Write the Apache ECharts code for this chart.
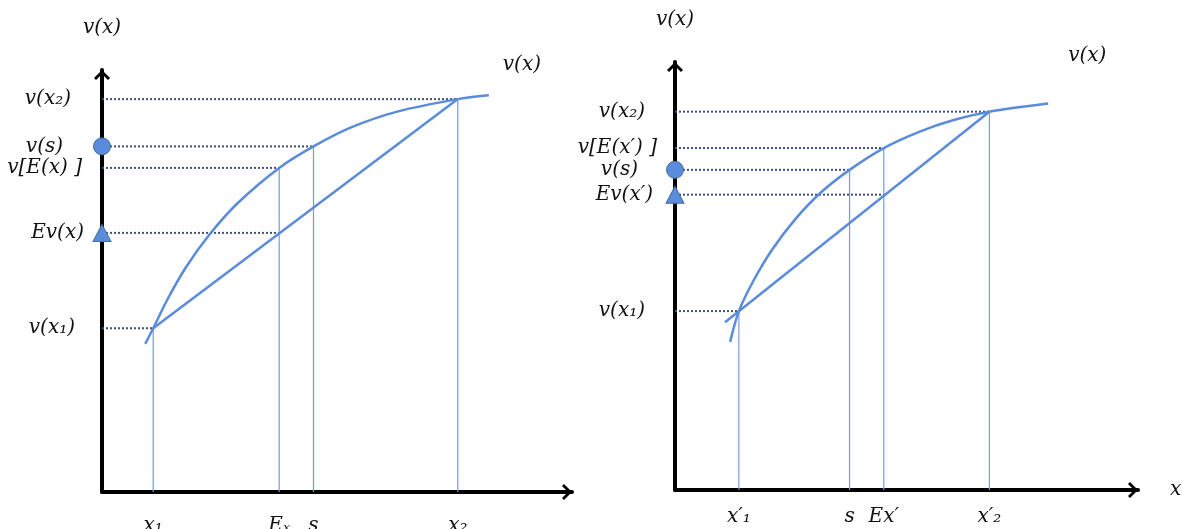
<!DOCTYPE html>
<html lang="en">
<head>
    <meta charset="UTF-8"/>
    <title>v(x)</title>
    <script src="https://cdn.jsdelivr.net/npm/echarts@6/dist/echarts.min.js"></script>
    <style>
        html, body { margin: 0; background: #fff; }
        #main { width: 1182px; height: 529px; }
    </style>
</head>
<body>
<div id="main"></div>
<script type="text/javascript">
    // both panels use axes running 0..10 in x and y

    // left panel
    var leftXTicks = [1.09, 3.77, 4.50, 7.57];
    var leftXLabels = ['x₁', 'Eₓ', 's', 'x₂'];
    var leftYTicks = [3.88, 6.14, 7.68, 8.19, 9.31];
    var leftYLabels = ['v(x₁)', 'Ev(x)', 'v[E(x) ]', 'v(s)', 'v(x₂)'];
    var leftCurve = [[0.92, 3.51], [1.09, 3.88], [1.40, 4.58], [1.80, 5.35], [2.30, 6.12], [2.90, 6.86],
        [3.77, 7.68], [4.50, 8.19], [5.30, 8.64], [6.30, 9.02], [7.57, 9.31], [8.23, 9.40]];
    var leftChord = [[1.09, 3.88], [7.57, 9.31]];
    // dotted guides: [y, x where they stop]
    var leftHGuides = [[9.31, 7.57], [8.19, 4.50], [7.68, 3.77], [6.14, 3.77], [3.88, 1.09]];
    // thin verticals: [x, y where they stop]
    var leftVGuides = [[1.09, 3.88], [3.77, 7.68], [4.50, 8.19], [7.57, 9.31]];
    var leftCircle = [[0, 8.19]];
    var leftTriangle = [[0, 6.14]];

    // right panel
    var rightXTicks = [1.38, 3.77, 4.51, 6.79];
    var rightXLabels = ['x′₁', 's', 'Ex′', 'x′₂'];
    var rightYTicks = [4.18, 6.90, 7.48, 7.99, 8.84];
    var rightYLabels = ['v(x₁)', 'Ev(x′)', 'v(s)', 'v[E(x′) ]', 'v(x₂)'];
    var rightCurve = [[1.19, 3.46], [1.38, 4.18], [1.70, 4.90], [2.10, 5.62], [2.60, 6.33], [3.15, 6.95],
        [3.77, 7.48], [4.51, 7.99], [5.30, 8.38], [6.00, 8.64], [6.79, 8.84], [8.06, 9.03]];
    var rightChord = [[1.08, 3.92], [6.79, 8.84]];
    var rightHGuides = [[8.84, 6.79], [7.99, 4.51], [7.48, 3.77], [6.90, 4.51], [4.18, 1.38]];
    var rightVGuides = [[1.38, 4.18], [3.77, 7.48], [4.51, 7.99], [6.79, 8.84]];
    var rightCircle = [[0, 7.48]];
    var rightTriangle = [[0, 6.90]];

    var curveColor = '#5b8bdb';
    var guideColor = '#3a5183';
    var stemColor = '#739cdb';
    var chevron = 'path://M8,0 L16,8 L14,10 L8,4 L2,10 L0,8 Z';
    var mathFont = {fontFamily: 'DejaVu Serif', fontStyle: 'italic', fontSize: 20, color: '#111'};

    function pick(ticks, v) {
        for (var i = 0; i < ticks.length; i++) {
            if (Math.abs(ticks[i] - v) < 1e-6) return i;
        }
        return -1;
    }

    function richPads(pads) {
        var r = {};
        pads.forEach(function (p, i) {
            r['g' + i] = Object.assign({padding: [0, p, 0, 0]}, mathFont);
        });
        return r;
    }

    function axisLine() {
        return {
            show: true, onZero: false,
            symbol: ['none', chevron], symbolSize: [16, 10], symbolOffset: [0, -5],
            lineStyle: {color: '#000', width: 4}
        };
    }

    var xAxes = [], yAxes = [], series = [];

    function panel(i, p) {
        xAxes.push({
            gridIndex: i, type: 'value', min: 0, max: 10,
            axisLine: axisLine(), axisTick: {show: false}, splitLine: {show: false},
            name: p.xName, nameGap: 32, nameTextStyle: mathFont,
            axisLabel: Object.assign({
                customValues: p.xTicks, margin: p.xMargin,
                formatter: function (v) {
                    var k = pick(p.xTicks, v);
                    return k < 0 ? '' : p.xLabels[k];
                }
            }, mathFont)
        });
        yAxes.push({
            gridIndex: i, type: 'value', min: 0, max: 10,
            axisLine: axisLine(), axisTick: {show: false}, splitLine: {show: false},
            name: 'v(x)', nameGap: 32, nameTextStyle: mathFont,
            axisLabel: {
                customValues: p.yTicks, margin: 18,
                formatter: function (v) {
                    var k = pick(p.yTicks, v);
                    return k < 0 ? '' : '{g' + k + '|' + p.yLabels[k] + '}';
                },
                rich: richPads(p.yPads)
            }
        });

        var base = {type: 'line', xAxisIndex: i, yAxisIndex: i, symbol: 'none', silent: true};

        p.vGuides.forEach(function (g) {
            series.push(Object.assign({}, base, {
                data: [[g[0], 0], [g[0], g[1]]],
                lineStyle: {color: stemColor, width: 1.2}
            }));
        });
        p.hGuides.forEach(function (g) {
            series.push(Object.assign({}, base, {
                data: [[0, g[0]], [g[1], g[0]]],
                lineStyle: {color: guideColor, width: 2, type: 'dotted'}
            }));
        });
        series.push(Object.assign({}, base, {
            data: p.chord,
            lineStyle: {color: curveColor, width: 2.5}
        }));
        series.push(Object.assign({}, base, {
            data: p.curve, smooth: 0.3,
            lineStyle: {color: curveColor, width: 2.5},
            endLabel: Object.assign({show: true, formatter: 'v(x)', distance: 0, offset: p.endOffset}, mathFont)
        }));
        series.push({
            type: 'scatter', xAxisIndex: i, yAxisIndex: i, silent: true, z: 5,
            data: p.circle, symbol: 'circle', symbolSize: 17,
            itemStyle: {color: curveColor, opacity: 1, borderColor: '#41719c', borderWidth: 1}
        });
        series.push({
            type: 'scatter', xAxisIndex: i, yAxisIndex: i, silent: true, z: 5,
            data: p.triangle, symbol: 'triangle', symbolSize: [18, 17],
            itemStyle: {color: curveColor, opacity: 1, borderColor: '#41719c', borderWidth: 1}
        });
    }

    panel(0, {
        xTicks: leftXTicks, xLabels: leftXLabels, yTicks: leftYTicks, yLabels: leftYLabels,
        curve: leftCurve, chord: leftChord, hGuides: leftHGuides, vGuides: leftVGuides,
        circle: leftCircle, triangle: leftTriangle,
        xName: '', xMargin: 24, yPads: [9, 0, 2, 21, 13], endOffset: [14, -31]
    });
    panel(1, {
        xTicks: rightXTicks, xLabels: rightXLabels, yTicks: rightYTicks, yLabels: rightYLabels,
        curve: rightCurve, chord: rightChord, hGuides: rightHGuides, vGuides: rightVGuides,
        circle: rightCircle, triangle: rightTriangle,
        xName: 'x', xMargin: 17, yPads: [12, 4, 19, 0, 12], endOffset: [20, -48]
    });

    var myChart = echarts.init(document.getElementById('main'));
    myChart.setOption({
        backgroundColor: '#fff',
        animation: false,
        grid: [
            {left: 102, top: 70, width: 470, height: 422, outerBoundsMode: 'none'},
            {left: 675, top: 62, width: 463, height: 428, outerBoundsMode: 'none'}
        ],
        xAxis: xAxes,
        yAxis: yAxes,
        series: series
    });
</script>
</body>
</html>
